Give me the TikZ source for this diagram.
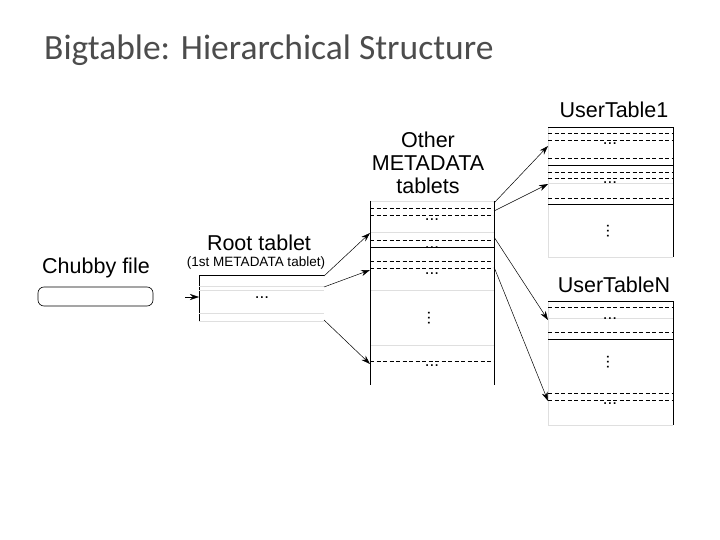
\documentclass[tikz,border=0pt]{standalone}
\usepackage{fontspec}
\setmainfont{Liberation Sans}
\newfontfamily\titlefont{Carlito}
\usetikzlibrary{arrows.meta}
\begin{document}
\begin{tikzpicture}[x=1pt,y=-1pt,
  lbl/.style={inner sep=0pt,font=\fontsize{21.5}{23}\selectfont},
  dots/.style={inner sep=0pt,font=\fontsize{17}{17}\selectfont},
  dsh/.style={dashed,line width=0.7pt,dash pattern=on 4pt off 2.5pt},
  faint/.style={gray!25,line width=0.5pt},
  solid line/.style={line width=0.8pt},
  arr/.style={-{Stealth[length=9pt,width=6pt]},line width=0.5pt}]
\useasboundingbox (0,0) rectangle (720,540);
\node[anchor=west,inner sep=0pt,text=black!70,font=\titlefont\fontsize{35.5}{38}\selectfont] (title) at (44,50) {Bigtable: Hierarchical Structure};
% Chubby
\node[lbl] (chubbyl) at (96,268) {Chubby file};
\node[draw,rounded corners=6pt,minimum width=115pt,minimum height=19pt,line width=0.6pt] (chubby) at (95.5,296.5) {};
% Root
\node[lbl] (rootl) at (259,243) {Root tablet};
\node[inner sep=0pt,font=\fontsize{13.5}{14}\selectfont] (rootl2) at (256,263) {(1st METADATA tablet)};
\draw[solid line] (324,275) -- (199,275) -- (199,321);
\draw[faint] (199,286)--(324,286) (199,290)--(324,290) (199,313)--(324,313) (199,321)--(324,321);
\node[dots] (rootd) at (262,298) {...};
\coordinate (rootin) at (199,297);
\coordinate (chubbyr) at (185,297);
\draw[arr] (chubbyr) -- (rootin);
% METADATA
\node[lbl,align=center,font=\fontsize{21.5}{23}\selectfont] (metal) at (428,163) {Other\\METADATA\\tablets};
\draw[faint] (370,201)--(494,201) (370,232)--(494,232) (370,290)--(494,290) (370,345)--(494,345);
\draw[solid line] (370,201)--(370,385) (494,201)--(494,385) (370,247)--(494,247);
\draw[dsh] (370,208)--(494,208) (370,215)--(494,215) (370,240)--(494,240) (370,261)--(494,261) (370,268)--(494,268) (370,361)--(494,361);
\node[dots] (m1) at (432,220) {...};
\node[dots] (m2) at (432,248) {...};
\node[dots] (m3) at (432,274) {...};
\node[dots,rotate=90] (m4) at (429,318) {...};
\node[dots] (m5) at (432,366) {...};
% UserTable1
\node[lbl] (u1l) at (614,110) {UserTable1};
\draw[faint] (548,127)--(548,257) (548,257)--(673,257) (548,183)--(673,183);
\draw[solid line] (548,127)--(673,127)--(673,257) (548,165)--(673,165) (548,204)--(673,204);
\draw[dsh] (548,133)--(673,133) (548,140)--(673,140) (548,158)--(673,158) (548,172)--(673,172) (548,178)--(673,178) (548,198)--(673,198);
\node[dots] (ua) at (610,144) {...};
\node[dots] (ub) at (610,183) {...};
\node[dots,rotate=90] (uc) at (608,231) {...};
% UserTableN
\node[lbl] (unl) at (614,285) {UserTableN};
\draw[faint] (548,301)--(548,425) (548,425)--(673,425) (548,318)--(673,318);
\draw[solid line] (548,301)--(673,301)--(673,425) (548,339)--(673,339);
\draw[dsh] (548,307)--(673,307) (548,332)--(673,332) (548,393)--(673,393) (548,400)--(673,400);
\node[dots] (na) at (610,319) {...};
\node[dots,rotate=90] (nb) at (608,362) {...};
\node[dots] (nc) at (610,404) {...};
% arrows
\coordinate (r1) at (324,276); \coordinate (r2) at (324,287); \coordinate (r3) at (324,320);
\coordinate (mi1) at (370,233); \coordinate (mi2) at (370,270); \coordinate (mi3) at (370,364);
\draw[arr] (r1)--(mi1); \draw[arr] (r2)--(mi2); \draw[arr] (r3)--(mi3);
\coordinate (mo1) at (494,203); \coordinate (mo2) at (494,211); \coordinate (mo3) at (494,237); \coordinate (mo4) at (494,267);
\coordinate (ui1) at (548,146); \coordinate (ui2) at (548,184); \coordinate (ui3) at (548,320); \coordinate (ui4) at (548,401);
\draw[arr] (mo1)--(ui1); \draw[arr] (mo2)--(ui2); \draw[arr] (mo3)--(ui3); \draw[arr] (mo4)--(ui4);
\end{tikzpicture}
\end{document}
